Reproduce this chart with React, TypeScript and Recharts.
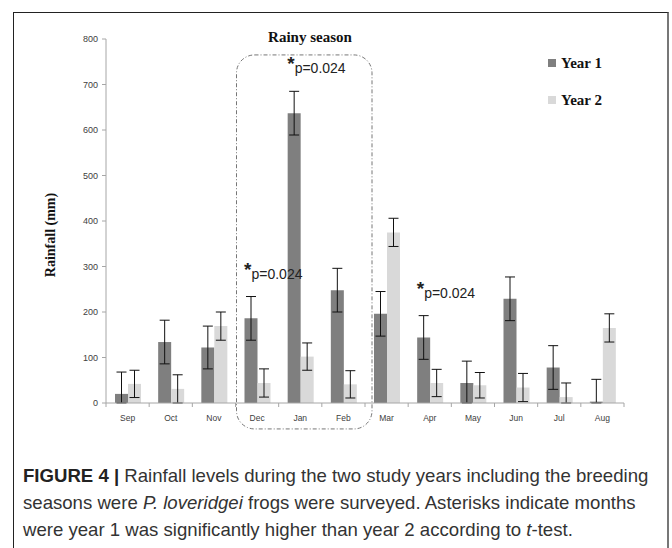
import { BarChart, Bar, XAxis, YAxis, ErrorBar, ReferenceArea, ReferenceDot, Label } from "recharts";

const months = ["Sep", "Oct", "Nov", "Dec", "Jan", "Feb", "Mar", "Apr", "May", "Jun", "Jul", "Aug"];
const year1 = [20, 134, 122, 186, 637, 248, 196, 144, 44, 229, 78, 3];
const year2 = [42, 31, 169, 44, 102, 41, 375, 44, 39, 34, 13, 165];
const year1Error = [48, 48, 47, 48, 48, 48, 49, 48, 48, 48, 48, 49];
const year2Error = [30, 31, 31, 31, 30, 30, 31, 30, 28, 31, 31, 31];
const yTicks = [0, 100, 200, 300, 400, 500, 600, 700, 800];
const rainySeason = ["Dec", "Feb"];
const significantMonths = ["Dec", "Jan", "Apr"];
const significanceText = "p=0.024";

// error bars stop at the axis, so the lower arm is capped by the value itself
const data = months.map((month, i) => ({
  month,
  year1: year1[i],
  year2: year2[i],
  err1: [Math.min(year1Error[i], year1[i]), year1Error[i]],
  err2: [Math.min(year2Error[i], year2[i]), year2Error[i]],
}));

const serif = "'Liberation Serif', 'Times New Roman', serif";
const sans = "'Liberation Sans', Arial, sans-serif";

function MonthTick(props: any) {
  const { x, y, payload, index } = props;
  const half = payload.offset ?? 21.5;
  return (
    <g>
      <line x1={x - half} x2={x - half} y1={y} y2={y + 4} stroke="#a6a6a6" />
      {index === months.length - 1 && <line x1={x + half} x2={x + half} y1={y} y2={y + 4} stroke="#a6a6a6" />}
      <text x={x} y={y + 18} textAnchor="middle" fontSize={8.5} fill="#404040" fontFamily={sans}>
        {payload.value}
      </text>
    </g>
  );
}

function SeasonBox(props: any) {
  const { x, y, width, height } = props;
  return (
    <rect
      x={x + 1}
      y={y}
      width={width + 6}
      height={height}
      rx={18}
      ry={18}
      fill="none"
      stroke="#777"
      strokeWidth={1}
      strokeDasharray="4 2 1 2"
    />
  );
}

function SigMark(props: any) {
  const { cx, cy } = props;
  return (
    <text x={cx - 13} y={cy - 18} fill="#222" fontFamily={sans}>
      <tspan fontSize={19} fontWeight="bold" dy={-3}>*</tspan>
      <tspan fontSize={14} dy={3}>{significanceText}</tspan>
    </text>
  );
}

function YTitle(props: any) {
  const { viewBox } = props;
  const cy = viewBox.y + viewBox.height / 2 + 14;
  return (
    <text
      x={37}
      y={cy}
      transform={`rotate(-90 37 ${cy})`}
      textAnchor="middle"
      dominantBaseline="central"
      fontFamily={serif}
      fontWeight="bold"
      fontSize={14}
      fill="#111"
    >
      Rainfall (mm)
    </text>
  );
}

export default function App() {
  return (
    <div style={{ position: "absolute", left: 0, top: 0, width: 672, height: 548, overflow: "hidden", background: "#fff" }}>
      <div
        style={{
          position: "absolute",
          left: 13,
          top: 12,
          width: 653,
          height: 600,
          borderTop: "1px solid #222",
          borderLeft: "1px solid #222",
          borderRight: "2px solid #777",
        }}
      />
      <div
        style={{
          position: "absolute",
          left: 310,
          top: 29,
          transform: "translateX(-50%)",
          fontFamily: serif,
          fontWeight: "bold",
          fontSize: 15,
          lineHeight: "16px",
          color: "#111",
          whiteSpace: "nowrap",
        }}
      >
        Rainy season
      </div>
      {[
        { name: "Year 1", color: "#7f7f7f", top: 55 },
        { name: "Year 2", color: "#d9d9d9", top: 92 },
      ].map((item) => (
        <div
          key={item.name}
          style={{
            position: "absolute",
            left: 548,
            top: item.top,
            display: "flex",
            alignItems: "center",
            fontFamily: serif,
            fontWeight: "bold",
            fontSize: 15,
            lineHeight: "16px",
            color: "#111",
          }}
        >
          <span style={{ width: 8, height: 8, background: item.color, marginRight: 5, display: "inline-block" }} />
          {item.name}
        </div>
      ))}
      <div style={{ position: "absolute", left: 13, top: 12 }}>
        <BarChart
          width={655}
          height={430}
          data={data}
          margin={{ top: 27, right: 44, bottom: 9, left: 0 }}
          barSize={13}
          barGap={0}
        >
          <XAxis
            dataKey="month"
            interval={0}
            tickLine={false}
            tickSize={0}
            tickMargin={0}
            height={30}
            stroke="#a6a6a6"
            tick={<MonthTick />}
          />
          <YAxis
            domain={[0, 800]}
            ticks={yTicks}
            width={93}
            stroke="#a6a6a6"
            tickSize={4}
            tickMargin={4}
            tick={{ fill: "#404040", fontSize: 9, fontFamily: sans }}
          >
            <Label content={<YTitle />} />
          </YAxis>
          <ReferenceArea
            x1={rainySeason[0]}
            x2={rainySeason[1]}
            y1={-57}
            y2={765}
            ifOverflow="visible"
            shape={<SeasonBox />}
          />
          <Bar dataKey="year1" name="Year 1" fill="#7f7f7f" isAnimationActive={false}>
            <ErrorBar dataKey="err1" width={5} stroke="#111" strokeWidth={1} />
          </Bar>
          <Bar dataKey="year2" name="Year 2" fill="#d9d9d9" isAnimationActive={false}>
            <ErrorBar dataKey="err2" width={5} stroke="#111" strokeWidth={1} />
          </Bar>
          {significantMonths.map((m) => {
            const i = months.indexOf(m);
            return (
              <ReferenceDot
                key={m}
                x={m}
                y={year1[i] + year1Error[i]}
                r={0}
                ifOverflow="visible"
                shape={<SigMark />}
              />
            );
          })}
        </BarChart>
      </div>
      <div
        style={{
          position: "absolute",
          left: 23,
          top: 462,
          fontFamily: sans,
          fontSize: 18.6,
          lineHeight: "27px",
          color: "#333",
          whiteSpace: "nowrap",
        }}
      >
        <b style={{ color: "#222" }}>FIGURE 4 |</b> Rainfall levels during the two study years including the breeding
        <br />
        seasons were <i>P. loveridgei</i> frogs were surveyed. Asterisks indicate months
        <br />
        were year 1 was significantly higher than year 2 according to <i>t</i>-test.
      </div>
    </div>
  );
}
